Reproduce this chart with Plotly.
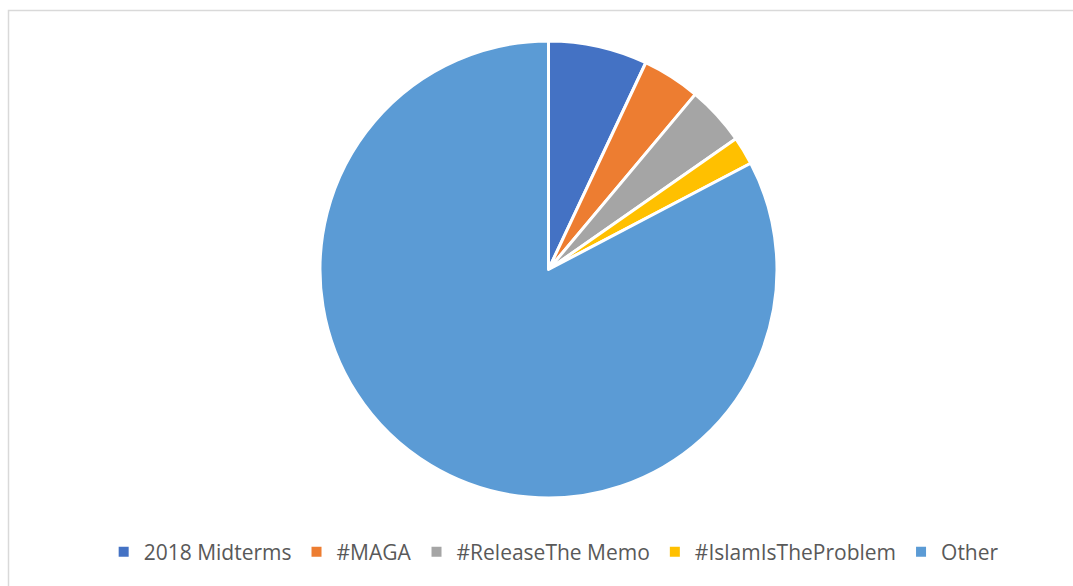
import plotly.graph_objects as go

# Share of tweets by hashtag / topic
categories = ["2018 Midterms", "#MAGA", "#ReleaseThe Memo", "#IslamIsTheProblem", "Other"]
shares = [7.0, 4.1, 4.2, 2.0, 82.7]
colors = ["#4472C4", "#ED7D31", "#A5A5A5", "#FFC000", "#5B9BD5"]

W, H = 1073, 586
cx, cy, r = 548.5, 269.5, 228.5

fig = go.Figure(
    go.Pie(
        labels=categories,
        values=shares,
        sort=False,
        direction="clockwise",
        rotation=0,
        textinfo="none",
        hoverinfo="label+percent",
        marker=dict(colors=colors, line=dict(color="white", width=3)),
        domain=dict(
            x=[(cx - r) / W, (cx + r) / W],
            y=[1 - (cy + r) / H, 1 - (cy - r) / H],
        ),
    )
)

fig.update_layout(
    width=W,
    height=H,
    margin=dict(l=0, r=0, t=0, b=0),
    paper_bgcolor="white",
    plot_bgcolor="white",
    font=dict(family="Open Sans", color="#595959", size=21),
    legend=dict(
        orientation="h",
        x=0.516,
        xanchor="center",
        y=1 - 552 / H,
        yanchor="middle",
        font=dict(family="Open Sans", color="#595959", size=21),
        itemsizing="constant",
        traceorder="normal",
    ),
    shapes=[
        dict(
            type="rect",
            xref="paper",
            yref="paper",
            x0=8.5 / W,
            x1=1.02,
            y0=-0.02,
            y1=1 - 10.5 / H,
            line=dict(color="#D9D9D9", width=1.5),
            layer="below",
        )
    ],
)

fig.write_html("out.html")
